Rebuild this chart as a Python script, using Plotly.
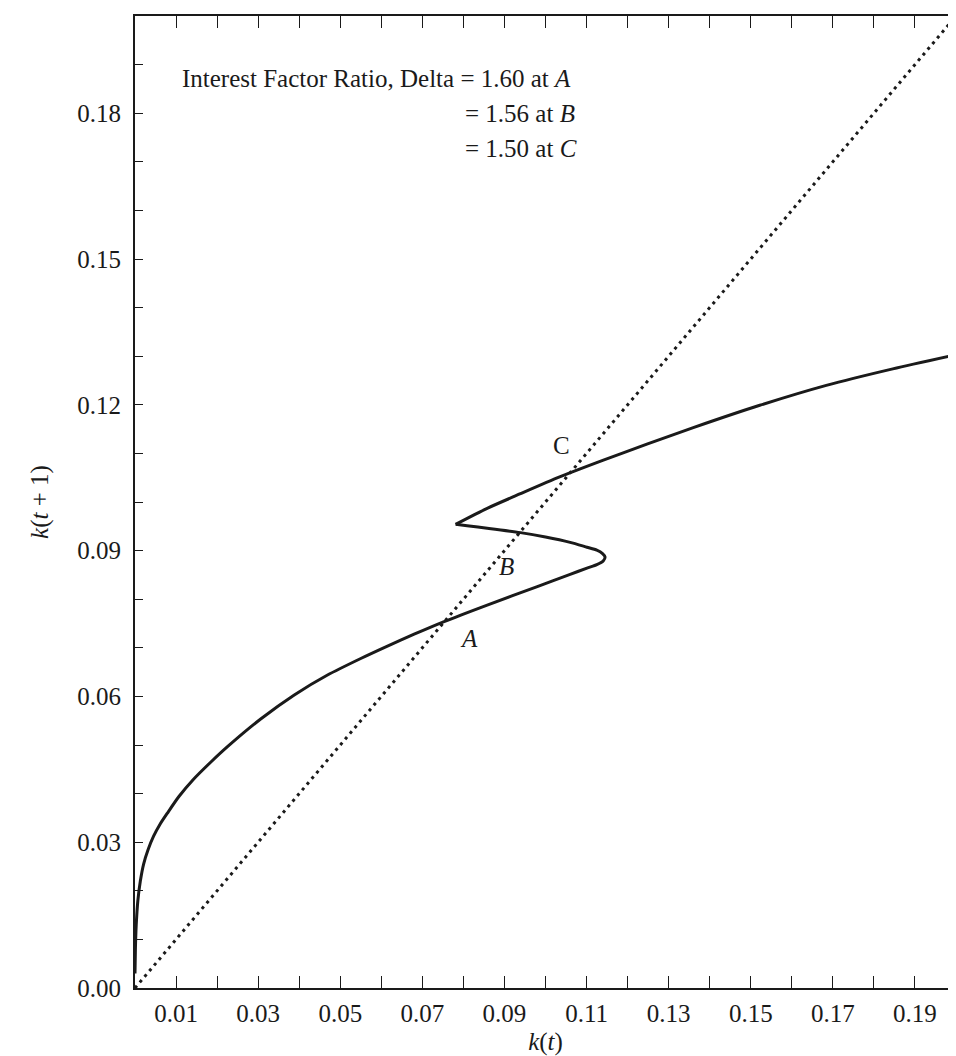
import plotly.graph_objects as go

# Curve k(t+1) vs k(t), in drawing order
# lower branch: from the origin up to the left-pointing fold
lower_x = [0.0000, 0.0001, 0.0003, 0.0007, 0.0013, 0.0021, 0.0032, 0.0045, 0.0061, 0.0079,
           0.0107, 0.0141, 0.0185, 0.0226, 0.0307, 0.0388, 0.0469, 0.0550, 0.0611, 0.0680,
           0.0753, 0.0858, 0.0980, 0.1060, 0.1101, 0.1125, 0.1141, 0.1145, 0.1139, 0.1125,
           0.1101, 0.1060, 0.1000, 0.0939, 0.0858, 0.0809, 0.0781]
lower_y = [0.0030, 0.0080, 0.0130, 0.0180, 0.0220, 0.0255, 0.0285, 0.0312, 0.0337, 0.0360,
           0.0394, 0.0428, 0.0465, 0.0497, 0.0554, 0.0603, 0.0644, 0.0678, 0.0702, 0.0728,
           0.0754, 0.0788, 0.0826, 0.0851, 0.0864, 0.0871, 0.0879, 0.0887, 0.0894, 0.0901,
           0.0907, 0.0917, 0.0928, 0.0937, 0.0946, 0.0951, 0.0954]
# upper branch: from the fold out to the right edge
upper_x = [0.0781, 0.0858, 0.0939, 0.1036, 0.1141, 0.1247, 0.1360, 0.1522, 0.1684, 0.1846,
           0.2000]
upper_y = [0.0954, 0.0987, 0.1017, 0.1052, 0.1086, 0.1119, 0.1153, 0.1199, 0.1240, 0.1274,
           0.1303]

# 45-degree line k(t+1) = k(t)
diag_x = [0.0, 0.2]
diag_y = [0.0, 0.2]

# Ticks
x_tick_vals = [0.01, 0.02, 0.03, 0.04, 0.05, 0.06, 0.07, 0.08, 0.09, 0.10,
               0.11, 0.12, 0.13, 0.14, 0.15, 0.16, 0.17, 0.18, 0.19]
x_tick_text = ["0.01", "", "0.03", "", "0.05", "", "0.07", "", "0.09", "",
               "0.11", "", "0.13", "", "0.15", "", "0.17", "", "0.19"]
y_tick_vals = [0.00, 0.01, 0.02, 0.03, 0.04, 0.05, 0.06, 0.07, 0.08, 0.09,
               0.10, 0.11, 0.12, 0.13, 0.14, 0.15, 0.16, 0.17, 0.18, 0.19]
y_tick_text = ["0.00", "", "", "0.03", "", "", "0.06", "", "", "0.09",
               "", "", "0.12", "", "", "0.15", "", "", "0.18", ""]

# Point labels
point_names = ["<i>A</i>", "<i>B</i>", "C"]
point_x = [0.0813, 0.0904, 0.1040]
point_y = [0.0719, 0.0867, 0.1117]

# Legend-like text block
note_lines = ["Interest Factor Ratio, Delta = 1.60 at <i>A</i>",
              "= 1.56 at <i>B</i>",
              "= 1.50 at <i>C</i>"]

FONT = "Liberation Serif"
INK = "#1a1a1a"

fig = go.Figure()
fig.add_trace(go.Scatter(x=diag_x, y=diag_y, mode="lines",
                         line=dict(color=INK, width=3, dash="3px,4.4px"),
                         hoverinfo="skip", showlegend=False))
for bx, by in ((lower_x, lower_y), (upper_x, upper_y)):
    fig.add_trace(go.Scatter(x=bx, y=by, mode="lines",
                             line=dict(color=INK, width=3, shape="spline", smoothing=0.7),
                             showlegend=False))

for name, px, py in zip(point_names, point_x, point_y):
    fig.add_annotation(x=px, y=py, xref="x", yref="y", text=name, showarrow=False,
                       font=dict(family=FONT, size=25, color=INK))

note_px = [(172 - 127) / 823, (456 - 127) / 823, (456 - 127) / 823]
note_py = [(980 - 70) / 973, (980 - 105) / 973, (980 - 140) / 973]
for txt, nx, ny in zip(note_lines, note_px, note_py):
    fig.add_annotation(x=nx, y=ny, xref="paper", yref="paper", text=txt,
                       showarrow=False, xanchor="left", yanchor="middle",
                       font=dict(family=FONT, size=25, color=INK))

axis_common = dict(showgrid=False, zeroline=False, showline=True, linewidth=2,
                   linecolor=INK, mirror="allticks", ticks="inside",
                   tickcolor=INK, tickwidth=1.3,
                   tickfont=dict(family=FONT, size=25, color=INK))

fig.update_xaxes(range=[0, 0.2], tickvals=x_tick_vals, ticktext=x_tick_text,
                 ticklen=12, ticklabelstandoff=2,
                 title=dict(text="<i>k</i>(<i>t</i>)", font=dict(family=FONT, size=25, color=INK),
                            standoff=6),
                 **axis_common)
fig.update_yaxes(range=[0, 0.2], tickvals=y_tick_vals, ticktext=y_tick_text,
                 ticklen=8, ticklabelstandoff=7,
                 title=dict(text="<i>k</i>(<i>t</i> + 1)", font=dict(family=FONT, size=25, color=INK),
                            standoff=22),
                 **axis_common)

fig.update_layout(width=956, height=1056,
                  margin=dict(l=127, r=6, t=7, b=76),
                  paper_bgcolor="white", plot_bgcolor="white")

fig.write_html("out.html")
